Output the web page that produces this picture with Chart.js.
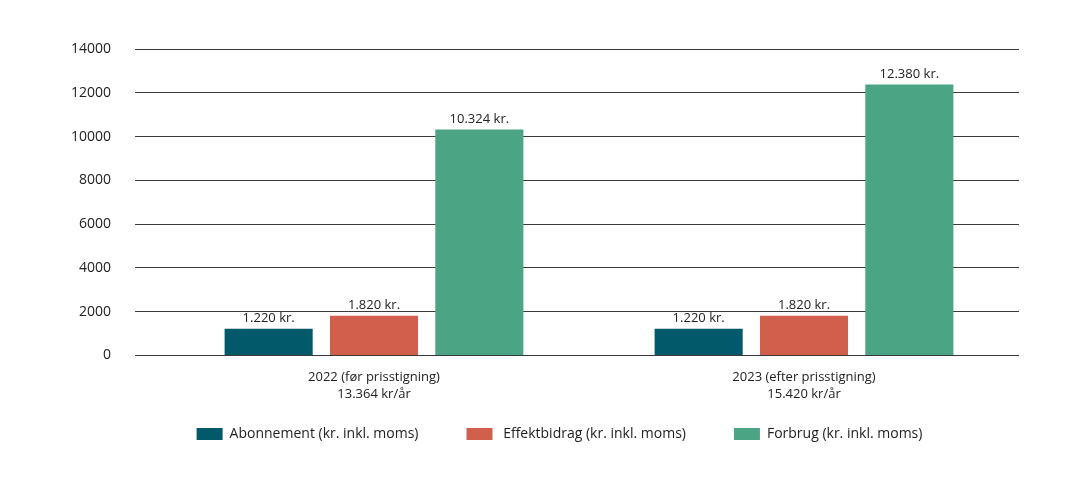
<!DOCTYPE html>
<html>
<head>
<meta charset="utf-8">
<script src="https://cdn.jsdelivr.net/npm/chart.js@4"></script>
<style>
  html, body { margin: 0; padding: 0; background: #fff; }
  #wrap { width: 1080px; height: 480px; }
</style>
</head>
<body>
<div id="wrap"><canvas id="myChart"></canvas></div>
<script>
const categories = [
    ['2022 (før prisstigning)', '13.364 kr/år'],
    ['2023 (efter prisstigning)', '15.420 kr/år']
];
const seriesNames = ['Abonnement (kr. inkl. moms)', ' Effektbidrag (kr. inkl. moms)', 'Forbrug (kr. inkl. moms)'];
const abonnement = [1220, 1220];
const effektbidrag = [1820, 1820];
const forbrug = [10324, 12380];
const valueLabels = [['1.220 kr.', '1.220 kr.'], ['1.820 kr.', '1.820 kr.'], ['10.324 kr.', '12.380 kr.']];
const colors = ['#01596a', '#d0604c', '#4ba584'];

Chart.defaults.font.family = '"Open Sans", sans-serif';
Chart.defaults.color = '#222';

// draws the "x kr." text on top of each bar
const barLabels = {
    id: 'barLabels',
    afterDatasetsDraw(chart) {
        const ctx = chart.ctx;
        ctx.save();
        ctx.font = '13px "Open Sans", sans-serif';
        ctx.fillStyle = '#222';
        ctx.textAlign = 'center';
        ctx.textBaseline = 'bottom';
        chart.data.datasets.forEach((ds, i) => {
            chart.getDatasetMeta(i).data.forEach((bar, j) => {
                ctx.fillText(valueLabels[i][j], bar.x, bar.y - 4);
            });
        });
        ctx.restore();
    }
};

// nudge the legend box so it sits where the original had it
const legendShift = {
    id: 'legendShift',
    afterLayout(chart) {
        const lg = chart.legend;
        if (!lg) return;
        lg.left += 50;
        lg.right += 50;
        lg.top -= 29;
        lg.bottom -= 29;
    }
};

let ctx = document.getElementById('myChart');
let myChart = new Chart(ctx, {
    type: 'bar',
    data: {
        labels: categories,
        datasets: [
            { label: seriesNames[0], data: abonnement, backgroundColor: colors[0] },
            { label: seriesNames[1], data: effektbidrag, backgroundColor: colors[1] },
            { label: seriesNames[2], data: forbrug, backgroundColor: colors[2] }
        ]
    },
    options: {
        responsive: true,
        maintainAspectRatio: false,
        animation: false,
        categoryPercentage: 0.735,
        barPercentage: 0.836,
        layout: {
            padding: { left: 0, right: 61, top: 49, bottom: 0 }
        },
        plugins: {
            tooltip: { enabled: false },
            legend: {
                position: 'bottom',
                labels: {
                    boxWidth: 26,
                    boxHeight: 12,
                    padding: 48,
                    font: { size: 14 },
                    color: '#222'
                }
            }
        },
        scales: {
            x: {
                grid: { display: false },
                border: { display: false },
                ticks: { font: { size: 13, lineHeight: 1.25 }, padding: 6, color: '#222' }
            },
            y: {
                min: 0,
                max: 14000,
                afterFit(scale) { scale.width = 159; },
                ticks: {
                    stepSize: 2000,
                    font: { size: 14 },
                    padding: 24,
                    color: '#222',
                    callback: (v) => String(v)
                },
                grid: { color: '#3a3a3a', tickLength: 24, drawTicks: true },
                border: { display: false }
            }
        }
    },
    plugins: [barLabels, legendShift]
});
</script>
</body>
</html>
